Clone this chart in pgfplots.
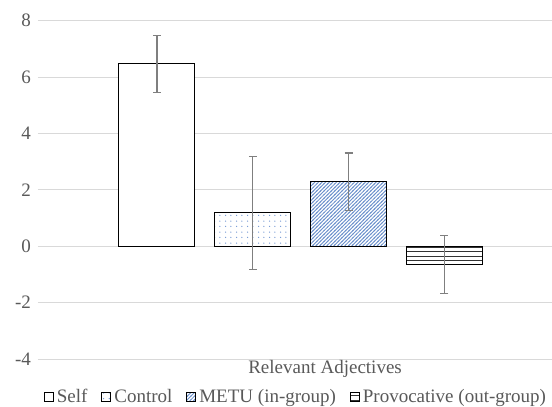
\documentclass[border=0pt]{standalone}
\usepackage{pgfplots}
\pgfplotsset{compat=1.18}
\usepackage{fontspec}
\setmainfont{Liberation Serif}
\usetikzlibrary{patterns.meta}
\definecolor{txt}{HTML}{595959}
\definecolor{gridc}{HTML}{D9D9D9}
\definecolor{hatchblue}{HTML}{6B90CC}
\definecolor{dotblue}{HTML}{6F94D2}
\definecolor{errc}{HTML}{7F7F7F}

\pgfdeclarepattern{
  name=bluedots, type=uncolored,
  bottom left={\pgfpoint{0bp}{0bp}}, top right={\pgfpoint{11.2bp}{11.2bp}},
  tile size={\pgfpoint{11.2bp}{11.2bp}},
  code={
    \pgfpathcircle{\pgfpoint{2.8bp}{2.8bp}}{0.7bp}
    \pgfpathcircle{\pgfpoint{8.4bp}{8.4bp}}{0.7bp}
    \pgfpathcircle{\pgfpoint{8.4bp}{2.8bp}}{0.7bp}
    \pgfpathcircle{\pgfpoint{2.8bp}{8.4bp}}{0.7bp}
    \pgfusepath{fill}
  }
}
\pgfdeclarepattern{
  name=bluehatch, type=uncolored,
  bottom left={\pgfpoint{-1bp}{-1bp}}, top right={\pgfpoint{4.5bp}{4.5bp}},
  tile size={\pgfpoint{3.6bp}{3.6bp}},
  code={
    \pgfsetlinewidth{0.85bp}
    \pgfpathmoveto{\pgfpoint{-0.5bp}{-0.5bp}}
    \pgfpathlineto{\pgfpoint{4.1bp}{4.1bp}}
    \pgfusepath{stroke}
  }
}
\pgfdeclarepattern{
  name=hlines, type=uncolored,
  bottom left={\pgfpoint{-1bp}{-1bp}}, top right={\pgfpoint{5.5bp}{5.5bp}},
  tile size={\pgfpoint{4.5bp}{4.5bp}},
  code={
    \pgfsetlinewidth{0.9bp}
    \pgfpathmoveto{\pgfpoint{-1bp}{2.25bp}}
    \pgfpathlineto{\pgfpoint{5.5bp}{2.25bp}}
    \pgfusepath{stroke}
  }
}

\begin{document}
\begin{tikzpicture}
\begin{axis}[
  scale only axis,
  width=514bp, height=338.5bp,
  xmin=-1.242, xmax=4.123,
  ymin=-4, ymax=8,
  ytick={-4,-2,0,2,4,6,8},
  yticklabels={-4,-2,0,2,4,6,8},
  xtick={1.754},
  xticklabels={Relevant Adjectives},
  ymajorgrids,
  grid style={gridc, line width=0.8bp},
  axis line style={draw=none},
  major tick style={draw=none},
  font=\fontsize{19bp}{22bp}\selectfont,
  tick label style={text=txt},
  yticklabel style={xshift=-3.5bp},
  xticklabel style={yshift=6bp},
  ybar, bar width=76bp,
  legend columns=4,
  legend style={draw=none, at={(0.5,-0.112)}, anchor=center,
    font=\fontsize{19bp}{22bp}\selectfont, text=txt,
    nodes={inner sep=0pt},
    /tikz/every odd column/.append style={column sep=3bp},
    /tikz/every even column/.append style={column sep=14bp},
    inner sep=0pt},
  legend image code/.code={\draw[#1, line width=0.9bp] (0bp,-4.5bp) rectangle (9bp,4.5bp);},
  error bars/y dir=both,
  error bars/y explicit,
  error bars/error bar style={errc, line width=1.2bp},
  error bars/error mark options={rotate=90, errc, mark size=4bp, line width=1.2bp},
]
\coordinate (bl) at (rel axis cs:0,0);
\addplot[bar shift=0pt, draw=black, line width=1bp, fill=white]
  coordinates {(0,6.46) +- (0,1.0)};
\addlegendentry{Self}
\addplot[bar shift=0pt, draw=black, line width=1bp, fill=white, postaction={pattern={bluedots}, pattern color=dotblue}]
  coordinates {(1,1.18) +- (0,2.0)};
\addlegendentry{Control}
\addplot[bar shift=0pt, draw=black, line width=1bp, fill=white, postaction={pattern={bluehatch}, pattern color=hatchblue}]
  coordinates {(2,2.28) +- (0,1.02)};
\addlegendentry{METU (in-group)}
\addplot[bar shift=0pt, draw=black, line width=1bp, fill=white, postaction={pattern={hlines}, pattern color=black!80}]
  coordinates {(3,-0.65) +- (0,1.02)};
\addlegendentry{Provocative (out-group)}
\end{axis}
\pgfresetboundingbox
\path (bl) ++(-38bp,-48bp) rectangle ++(552bp,407bp);
\end{tikzpicture}
\end{document}
